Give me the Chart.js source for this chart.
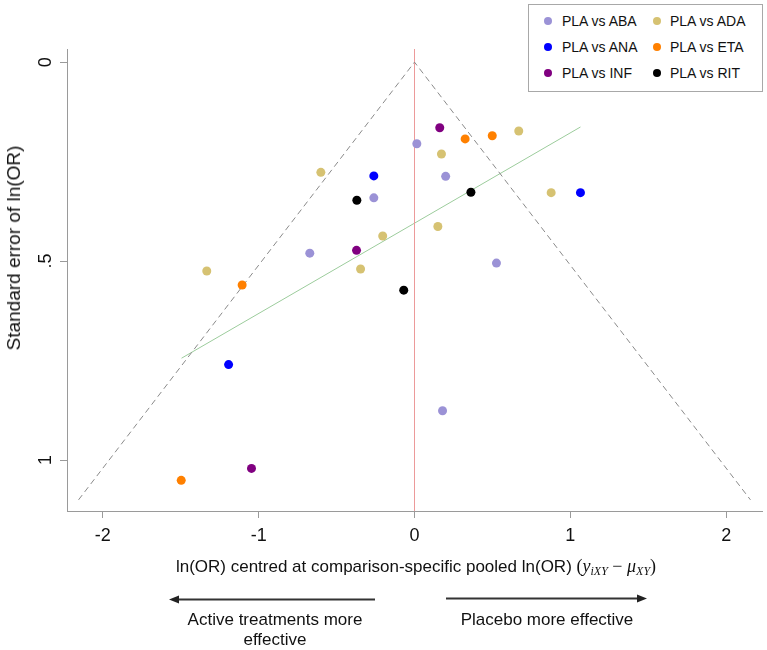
<!DOCTYPE html>
<html><head><meta charset="utf-8">
<script src="https://cdn.jsdelivr.net/npm/chart.js@4.4.1/dist/chart.umd.min.js"></script>
<style>
html,body{margin:0;padding:0;background:#fff;}
#wrap{position:relative;width:767px;height:650px;font-family:"Liberation Sans",Arial,sans-serif;color:#111;overflow:hidden;}
#c{position:absolute;left:0;top:0;}
.t{position:absolute;white-space:nowrap;}
.m{font-family:"Liberation Serif","DejaVu Serif",serif;font-size:18px;}
.m sub{font-size:12px;vertical-align:-3px;line-height:0;}
#legend{position:absolute;left:528px;top:4px;width:233px;height:86px;border:1px solid #a8a8a8;background:#fff;}
.lg-dot{position:absolute;width:8px;height:8px;border-radius:50%;}
.lg-txt{position:absolute;font-size:14px;line-height:16px;white-space:nowrap;}
</style></head><body>
<div id="wrap">
<canvas id="c" width="767" height="650"></canvas>
<div id="legend"></div>
<div class="t" id="ytitle" style="left:14px;top:248px;font-size:19px;transform:translate(-50%,-50%) rotate(-90deg);">Standard error of ln(OR)</div>
<div class="t" id="xtitle" style="left:416px;top:566px;font-size:17px;transform:translate(-50%,-50%);">ln(OR) centred at comparison-specific pooled ln(OR) <span class="m">(<i>y</i><sub><i>iXY</i></sub> − <i>μ</i><sub><i>XY</i></sub>)</span></div>
<svg width="767" height="650" style="position:absolute;left:0;top:0;pointer-events:none">
  <line x1="375" y1="599.5" x2="177" y2="599.5" stroke="#333" stroke-width="2"/>
  <polygon points="169,599.5 179,595.5 179,603.5" fill="#222"/>
  <line x1="446" y1="598.5" x2="639" y2="598.5" stroke="#333" stroke-width="2"/>
  <polygon points="647,598.5 637,594.5 637,602.5" fill="#222"/>
</svg>
<div class="t" style="left:275px;top:610px;font-size:17px;line-height:20px;text-align:center;transform:translateX(-50%);">Active treatments more<br>effective</div>
<div class="t" style="left:547px;top:610px;font-size:17px;line-height:20px;text-align:center;transform:translateX(-50%);">Placebo more effective</div>
</div>
<script>
// ---- data ----
const categories = ['PLA vs ABA','PLA vs ADA','PLA vs ANA','PLA vs ETA','PLA vs INF','PLA vs RIT'];
const abaX  = [0.015, 0.200, -0.261, -0.672, 0.526, 0.180];
const abaSE = [0.205, 0.287, 0.341, 0.480, 0.505, 0.876];
const adaX  = [0.173, -0.601, 0.150, -0.204, -0.346, -1.333, 0.669, 0.877];
const adaSE = [0.231, 0.277, 0.413, 0.437, 0.520, 0.525, 0.173, 0.328];
const anaX  = [-0.261, 1.065, -1.193];
const anaSE = [0.286, 0.328, 0.760];
const etaX  = [0.325, 0.499, -1.106, -1.497];
const etaSE = [0.193, 0.185, 0.560, 1.051];
const infX  = [0.162, -0.372, -1.046];
const infSE = [0.165, 0.473, 1.021];
const ritX  = [-0.370, 0.362, -0.069];
const ritSE = [0.347, 0.327, 0.573];
// funnel (pseudo 95% limits), regression line, null line
const funnelX  = [-2.156, 0, 2.156];
const funnelSE = [1.1, 0, 1.1];
const regX  = [-1.495, 1.065];
const regSE = [0.744, 0.163];
const zeroX  = [0, 0];
const zeroSE = [-0.033, 1.128];
// ticks
const xTickValues = [-2, -1, 0, 1, 2];
const xTickLabels = ['-2', '-1', '0', '1', '2'];
const yTickValues = [0, 0.5, 1];
const yTickLabels = ['0', '.5', '1'];

// ---- styles ----
const seriesColors = ['#9b92d6', '#d6c272', '#0000ff', '#ff8000', '#800080', '#000000'];
const seriesX  = [abaX, adaX, anaX, etaX, infX, ritX];
const seriesSE = [abaSE, adaSE, anaSE, etaSE, infSE, ritSE];
const toPts = (xs, ys) => xs.map((v, i) => ({x: v, y: ys[i]}));

const datasets = categories.map((name, k) => ({
  type: 'scatter', label: name, data: toPts(seriesX[k], seriesSE[k]),
  backgroundColor: seriesColors[k], borderColor: seriesColors[k],
  pointRadius: 4.5, pointBorderWidth: 0, pointHoverRadius: 4.5, order: 0
}));
datasets.push({type:'scatter', label:'funnel', data: toPts(funnelX, funnelSE), showLine:true,
  borderColor:'#8a8a8a', borderWidth:1, borderDash:[6,4], pointRadius:0, order:10});
datasets.push({type:'scatter', label:'null', data: toPts(zeroX, zeroSE), showLine:true,
  borderColor:'#ec9a9a', borderWidth:1, pointRadius:0, order:10});
datasets.push({type:'scatter', label:'regression', data: toPts(regX, regSE), showLine:true,
  borderColor:'#9ccc9c', borderWidth:1, pointRadius:0, order:10});

// legend (HTML)
const lg = document.getElementById('legend');
const rowY = [21, 47, 73], dotX = [548, 657], txtX = [562, 670];
categories.forEach((name, i) => {
  const col = i % 2, row = Math.floor(i / 2);
  const d = document.createElement('div'); d.className = 'lg-dot';
  d.style.left = (dotX[col] - 4 - 529) + 'px'; d.style.top = (rowY[row] - 4 - 5) + 'px';
  d.style.background = seriesColors[i]; lg.appendChild(d);
  const t = document.createElement('div'); t.className = 'lg-txt'; t.textContent = name;
  t.style.left = (txtX[col] - 529) + 'px'; t.style.top = (rowY[row] - 8 - 5) + 'px'; lg.appendChild(t);
});

const yTickLabelsPlugin = {
  id: 'yTickLabels',
  afterDraw(chart) {
    const s = chart.scales.y, ctx = chart.ctx;
    ctx.save();
    ctx.font = '18px "Liberation Sans", Arial, sans-serif';
    ctx.fillStyle = '#111'; ctx.textAlign = 'center'; ctx.textBaseline = 'middle';
    s.ticks.forEach((t, i) => {
      const y = s.getPixelForValue(t.value);
      ctx.save(); ctx.translate(46, y); ctx.rotate(-Math.PI / 2);
      ctx.fillText(yTickLabels[i], 0, 0); ctx.restore();
    });
    ctx.restore();
  }
};

const axisColor = '#9a9a9a';
new Chart(document.getElementById('c'), {
  type: 'scatter',
  data: { datasets },
  options: {
    responsive: false, animation: false, devicePixelRatio: 1,
    layout: { padding: { left: 0, right: 5, top: 49, bottom: 0 } },
    plugins: { legend: { display: false }, tooltip: { enabled: false } },
    scales: {
      x: {
        type: 'linear', min: -2.23, max: 2.23,
        afterBuildTicks: s => { s.ticks = xTickValues.map(v => ({ value: v })); },
        afterFit: s => { s.height = 139; },
        grid: { drawOnChartArea: false, drawTicks: true, tickLength: 7, color: axisColor, lineWidth: 1 },
        border: { display: true, color: axisColor, width: 1 },
        ticks: { font: { family: '"Liberation Sans", Arial, sans-serif', size: 18 }, color: '#111', padding: 7,
                 maxRotation: 0, autoSkip: false, callback: (v, i) => xTickLabels[i] }
      },
      y: {
        type: 'linear', reverse: true, min: -0.033, max: 1.128,
        afterBuildTicks: s => { s.ticks = yTickValues.map(v => ({ value: v })); },
        afterFit: s => { s.width = 67; },
        grid: { drawOnChartArea: false, drawTicks: true, tickLength: 7, color: axisColor, lineWidth: 1 },
        border: { display: true, color: axisColor, width: 1 },
        ticks: { display: false }
      }
    }
  },
  plugins: [yTickLabelsPlugin]
});
</script>
</body></html>
